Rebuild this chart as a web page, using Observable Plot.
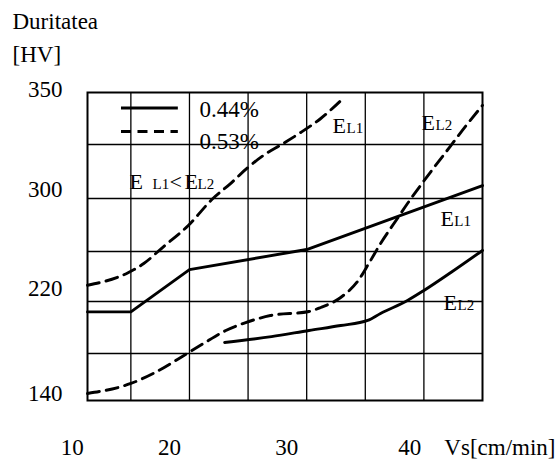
<!DOCTYPE html>
<html>
<head>
<meta charset="utf-8">
<script src="https://cdn.jsdelivr.net/npm/d3@7"></script>
<script src="https://cdn.jsdelivr.net/npm/@observablehq/plot@0.6"></script>
<style>
  html, body { margin: 0; padding: 0; background: #fff; }
  #chart svg { display: block; }
  #chart svg text { font-family: "Liberation Serif", "DejaVu Serif", serif !important; }
</style>
</head>
<body>
<div id="chart"></div>
<script>
// ---------- data ----------
const xMin = 11.3, xMax = 45;              // Vs [cm/min] extent of the frame
const yMin = 140, yMax = 350;              // HV extent of the frame
const gridX = [15, 20, 25, 30, 35, 40];
const gridY = [180, 220, 260, 300, 325];

const xTickText = ["10", "20", "30", "40"];
const xTickAt   = [10, 18.3, 28.3, 38.8];   // where the labels are printed
const yTickText = ["140", "220", "300", "350"];
const yTickAt   = [140, 224.8, 300.9, 347.6];

// 0.44 % (solid)
const solidEL1_x = [11.3, 15, 20, 30, 45];
const solidEL1_y = [212, 212, 245.5, 261.5, 306];
const solidEL2_x = [23, 27, 30.2, 32.9, 35.2, 36.3, 38.6, 40, 42.3, 45];
const solidEL2_y = [188.5, 193, 197.7, 201.5, 205.4, 210.8, 220.8, 228.8, 243.2, 260.8];

// 0.53 % (dashed)
const dashEL1_x = [11.3, 14.8, 16.1, 17.7, 19.9, 22, 23.5, 25, 26.3, 28, 29.5, 31.2, 33.1];
const dashEL1_y = [233, 243.2, 250.4, 263, 279.6, 300, 306.9, 314.4, 319.9, 325.5, 330.8, 337.5, 347.1];
const dashEL2_x = [11.3, 15, 16.9, 19.8, 21.2, 23.1, 24.8, 26.9, 30.2, 31.2, 32.9, 34.4, 35.3, 36.3, 37.8, 38.6, 39.9, 42.3, 43.6, 45];
const dashEL2_y = [146, 154.5, 163, 180, 187.7, 197.7, 203.8, 209.2, 212.3, 215.4, 223.2, 236.8, 250.4, 266, 285.7, 296.2, 307.4, 324.5, 334.1, 343.8];

// legend
const legendText = ["0.44%", "0.53%"];
const legendLineX = [14.2, 19.05];
const legendLineY = [342.6, 331.3];
const legendTextX = 20.86;
const legendTextY = [338, 323.1];

// annotations: main letters and their subscripts
const annBig_t = ["E", "E", "E", "E", "E", "<", "E"];
const annBig_x = [32.2, 39.8, 41.42, 41.68, 14.88, 18.3, 19.58];
const annBig_y = [330.3, 332.2, 279.6, 213.1, 304.2, 304.2, 304.2];
const annSub_t = ["L1", "L2", "L1", "L2", "L1", "L2"];
const annSub_x = [33.4, 41.0, 42.6, 42.87, 16.85, 20.69];
const annSub_y = [330.3, 332.2, 279.6, 213.1, 304.2, 304.2];

// ---------- tables ----------
const toRows = (xs, ys, key) => xs.map((x, i) => ({x, y: ys[i], key}));
const solid1Rows = toRows(solidEL1_x, solidEL1_y, "EL1");
const solid2Rows = toRows(solidEL2_x, solidEL2_y, "EL2");
const dashRows  = [...toRows(dashEL1_x, dashEL1_y, "EL1"), ...toRows(dashEL2_x, dashEL2_y, "EL2")];
const legendRows = legendText.map((t, i) => ({t, y: legendLineY[i], ty: legendTextY[i]}));
const bigRows = annBig_t.map((t, i) => ({t, x: annBig_x[i], y: annBig_y[i]}));
const subRows = annSub_t.map((t, i) => ({t, x: annSub_x[i], y: annSub_y[i]}));
const xTicks = xTickText.map((t, i) => ({t, x: xTickAt[i]}));
const yTicks = yTickText.map((t, i) => ({t, y: yTickAt[i]}));

const serif = "Liberation Serif";
const lineW = 2.9;
const dash = "12,7";

const chart = Plot.plot({
  width: 557,
  height: 460,
  marginLeft: 87,
  marginRight: 75,
  marginTop: 92,
  marginBottom: 60,
  style: {background: "#fff", color: "#000"},
  x: {type: "linear", domain: [xMin, xMax], axis: null},
  y: {type: "linear", domain: [140, 180, 220, 260, 300, 325, 350],
      range: [400, 353, 301, 251, 198, 144, 92], axis: null},
  marks: [
    // grid
    Plot.ruleX(gridX, {y1: yMin, y2: yMax, stroke: "#000", strokeWidth: 1.3}),
    Plot.ruleY(gridY, {x1: xMin, x2: xMax, stroke: "#000", strokeWidth: 1.3}),
    Plot.frame({stroke: "#000", strokeWidth: 2}),

    // data curves
    Plot.line(solid1Rows, {x: "x", y: "y", stroke: "#000", strokeWidth: lineW, curve: "linear"}),
    Plot.line(solid2Rows, {x: "x", y: "y", stroke: "#000", strokeWidth: lineW, curve: "monotone-x"}),
    Plot.line(dashRows, {x: "x", y: "y", z: "key", stroke: "#000", strokeWidth: lineW,
      strokeDasharray: dash, curve: "monotone-x"}),

    // legend
    Plot.ruleY(legendRows.slice(0, 1), {y: "y", x1: legendLineX[0], x2: legendLineX[1], stroke: "#000", strokeWidth: 3}),
    Plot.ruleY(legendRows.slice(1), {y: "y", x1: legendLineX[0], x2: legendLineX[1], stroke: "#000", strokeWidth: 3, strokeDasharray: "10,6.5"}),
    Plot.text(legendRows, {x: legendTextX, y: "ty", text: "t", textAnchor: "start", lineAnchor: "bottom",
      fontFamily: serif, fontSize: 23, fill: "#000", ariaLabel: "stretch-a"}),

    // annotations
    Plot.text(bigRows, {x: "x", y: "y", text: "t", textAnchor: "start", lineAnchor: "bottom",
      fontFamily: serif, fontSize: 22, fill: "#000", ariaLabel: "stretch-b"}),
    Plot.text(subRows, {x: "x", y: "y", text: "t", textAnchor: "start", lineAnchor: "bottom",
      fontFamily: serif, fontSize: 15, fill: "#000", ariaLabel: "stretch-b"}),

    // axis labels
    Plot.text(xTicks, {x: "x", text: "t", frameAnchor: "bottom", dy: 54, textAnchor: "middle", lineAnchor: "bottom",
      fontFamily: serif, fontSize: 23, fill: "#000", ariaLabel: "stretch-a"}),
    Plot.text(yTicks, {y: "y", text: "t", frameAnchor: "left", dx: -25, textAnchor: "end", lineAnchor: "bottom",
      fontFamily: serif, fontSize: 23, fill: "#000", ariaLabel: "stretch-a"}),
    Plot.text(["Vs[cm/min]"], {frameAnchor: "bottom-right", dx: 73, dy: 54, textAnchor: "end", lineAnchor: "bottom",
      fontFamily: serif, fontSize: 23, fill: "#000", ariaLabel: "stretch-a"}),
    Plot.text(["Duritatea"], {frameAnchor: "top-left", dx: -75, dy: -64, textAnchor: "start", lineAnchor: "bottom",
      fontFamily: serif, fontSize: 23, fill: "#000"}),
    Plot.text(["[HV]"], {frameAnchor: "top-left", dx: -75, dy: -31, textAnchor: "start", lineAnchor: "bottom",
      fontFamily: serif, fontSize: 23, fill: "#000"})
  ]
});

// slight vertical stretch of the glyphs, as in the reference print
const stretch = (sel, s) => chart.querySelectorAll(sel).forEach((t) => {
  const tr = t.getAttribute("transform") || "";
  t.setAttribute("transform", tr + ` scale(1,${s})`);
});
stretch('g[aria-label="stretch-a"] text', 1.08);
stretch('g[aria-label="stretch-b"] text', 1.3);

document.getElementById("chart").append(chart);
</script>
</body>
</html>
